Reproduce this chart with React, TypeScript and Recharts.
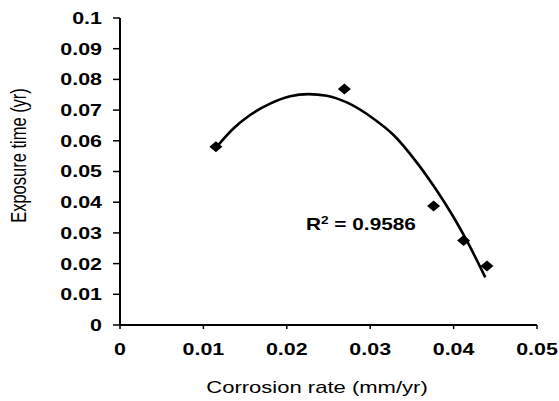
import React from 'react';
import { ScatterChart, Scatter, XAxis, YAxis, ReferenceDot } from 'recharts';

// Measured points
const corrosionRate = [0.0115, 0.0269, 0.0376, 0.0412, 0.044];
const exposureTime = [0.0581, 0.0769, 0.0388, 0.0275, 0.0192];

// Polynomial trendline
const trendRate = [0.0118, 0.0136, 0.0156, 0.018, 0.0204, 0.0226, 0.0248, 0.0272, 0.0304, 0.0328, 0.0356, 0.038, 0.04, 0.0416, 0.0438];
const trendTime = [0.0587, 0.0640, 0.0684, 0.0721, 0.0745, 0.0752, 0.0747, 0.0725, 0.0672, 0.0619, 0.0529, 0.0437, 0.0351, 0.0274, 0.0155];

const xTicks = [0, 0.01, 0.02, 0.03, 0.04, 0.05];
const xTickLabels = ['0', '0.01', '0.02', '0.03', '0.04', '0.05'];
const yTicks = [0, 0.01, 0.02, 0.03, 0.04, 0.05, 0.06, 0.07, 0.08, 0.09, 0.1];
const yTickLabels = ['0', '0.01', '0.02', '0.03', '0.04', '0.05', '0.06', '0.07', '0.08', '0.09', '0.1'];

const xTitle = 'Corrosion rate (mm/yr)';
const yTitle = 'Exposure time (yr)';
const r2Value = '0.9586';
const r2Anchor = { rate: 0.0223, time: 0.0309 };

const points = corrosionRate.map((r, i) => ({ rate: r, time: exposureTime[i] }));
const trend = trendRate.map((r, i) => ({ rate: r, time: trendTime[i] }));

const FONT = "'Liberation Sans', Arial, Helvetica, sans-serif";
const SX = 1.3;

const findLabel = (ticks: number[], labels: string[], v: number) => {
  const i = ticks.findIndex((t) => Math.abs(t - v) < 1e-9);
  return i >= 0 ? labels[i] : String(v);
};

const XTick = (props: any) => {
  const { x, y, payload } = props;
  return (
    <text
      transform={`translate(${x},${y}) scale(${SX},1)`}
      textAnchor="middle"
      dy="0.72em"
      fontFamily={FONT}
      fontWeight="bold"
      fontSize={16.5}
      fill="#000"
    >
      {findLabel(xTicks, xTickLabels, payload.value)}
    </text>
  );
};

const YTick = (props: any) => {
  const { x, y, payload } = props;
  return (
    <text
      transform={`translate(${x},${y}) scale(${SX},1)`}
      textAnchor="end"
      dy="0.36em"
      fontFamily={FONT}
      fontWeight="bold"
      fontSize={16.5}
      fill="#000"
    >
      {findLabel(yTicks, yTickLabels, payload.value)}
    </text>
  );
};

const XTitle = (props: any) => {
  const vb = props.viewBox || { x: 120, y: 325, width: 417, height: 76 };
  const cx = vb.x + vb.width / 2 - 11.5;
  const by = vb.y + 68;
  return (
    <text
      transform={`translate(${cx},${by}) scale(1.36,1)`}
      textAnchor="middle"
      fontFamily={FONT}
      fontSize={16.2}
      fill="#000"
    >
      {xTitle}
    </text>
  );
};

const YTitle = (props: any) => {
  const vb = props.viewBox || { x: 0, y: 18, width: 120, height: 307 };
  const cx = vb.x + 18.5;
  const cy = vb.y + vb.height / 2 - 16;
  return (
    <text
      transform={`translate(${cx},${cy}) scale(1.3,1) rotate(-90)`}
      textAnchor="middle"
      dy="0.36em"
      fontFamily={FONT}
      fontSize={16.5}
      fill="#000"
    >
      {yTitle}
    </text>
  );
};

const Diamond = (props: any) => {
  const { cx, cy } = props;
  if (cx == null || cy == null) return <g />;
  const hw = 6.5;
  const hh = 5.5;
  return (
    <polygon
      points={`${cx},${cy - hh} ${cx + hw},${cy} ${cx},${cy + hh} ${cx - hw},${cy}`}
      fill="#000"
    />
  );
};

const NoShape = () => <g />;

const R2Text = (props: any) => {
  const { cx, cy } = props;
  if (cx == null || cy == null) return <g />;
  return (
    <text
      transform={`translate(${cx},${cy}) scale(${SX},1)`}
      textAnchor="start"
      fontFamily={FONT}
      fontWeight="bold"
      fontSize={16}
      fill="#000"
    >
      R
      <tspan fontSize={10.5} dy={-6.5}>2</tspan>
      <tspan dy={6.5}>{` = ${r2Value}`}</tspan>
    </text>
  );
};

export default function App() {
  return (
    <div style={{ position: 'absolute', left: 0, top: 0, width: 559, height: 401, background: '#fff' }}>
      <ScatterChart
        width={559}
        height={401}
        margin={{ top: 18, right: 22, bottom: 0, left: 0 }}
      >
        <XAxis
          type="number"
          dataKey="rate"
          domain={[0, 0.05]}
          ticks={xTicks}
          interval={0}
          height={76}
          tickSize={4}
          tickMargin={14}
          axisLine={{ stroke: '#000', strokeWidth: 2 }}
          tickLine={{ stroke: '#000', strokeWidth: 1.5 }}
          tick={<XTick />}
          label={{ content: <XTitle /> }}
        />
        <YAxis
          type="number"
          dataKey="time"
          domain={[0, 0.1]}
          ticks={yTicks}
          interval={0}
          width={120}
          tickSize={7}
          tickMargin={11}
          axisLine={{ stroke: '#000', strokeWidth: 2 }}
          tickLine={{ stroke: '#000', strokeWidth: 1.5 }}
          tick={<YTick />}
          label={{ content: <YTitle /> }}
        />
        <Scatter
          data={trend}
          line={{ stroke: '#000', strokeWidth: 2.6 }}
          lineJointType="monotoneX"
          shape={<NoShape />}
          isAnimationActive={false}
        />
        <Scatter data={points} shape={<Diamond />} isAnimationActive={false} />
        <ReferenceDot
          x={r2Anchor.rate}
          y={r2Anchor.time}
          r={0}
          shape={<R2Text />}
        />
      </ScatterChart>
    </div>
  );
}
